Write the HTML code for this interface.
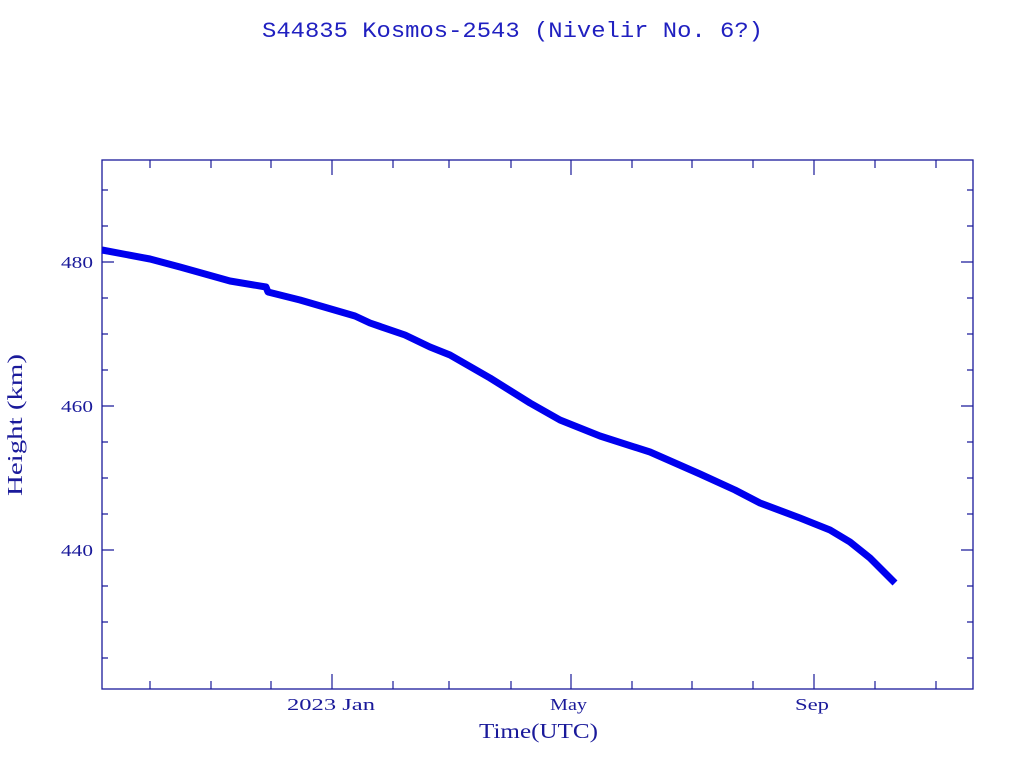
<!DOCTYPE html>
<html><head><style>
body{margin:0;background:#fff;}
svg{display:block;font-family:"Liberation Serif",serif;}
</style></head><body>
<svg width="1024" height="768" xmlns="http://www.w3.org/2000/svg">
<text x="262" y="37" font-size="22" fill="#2020c0" font-family="Liberation Mono, monospace" textLength="501" lengthAdjust="spacingAndGlyphs">S44835 Kosmos-2543  (Nivelir No. 6?)</text>
<rect x="102" y="160" width="871" height="529" fill="none" stroke="#1a1a9a" stroke-width="1.3"/>
<g stroke="#1a1a9a" stroke-width="1.2">
<path d="M150,689v-8M211,689v-8M271,689v-8M332,689v-15M393,689v-8M449,689v-8M511,689v-8M571,689v-15M632,689v-8M692,689v-8M753,689v-8M814,689v-15M875,689v-8M936,689v-8"/>
<path d="M150,160v8M211,160v8M271,160v8M332,160v15M393,160v8M449,160v8M511,160v8M571,160v15M632,160v8M692,160v8M753,160v8M814,160v15M875,160v8M936,160v8"/>
<path d="M102,262h12M102,406h12M102,550h12M102,190h6M102,226h6M102,298h6M102,334h6M102,370h6M102,442h6M102,478h6M102,514h6M102,586h6M102,622h6M102,658h6"/>
<path d="M973,262h-12M973,406h-12M973,550h-12M973,190h-6M973,226h-6M973,298h-6M973,334h-6M973,370h-6M973,442h-6M973,478h-6M973,514h-6M973,586h-6M973,622h-6M973,658h-6"/>
</g>
<g font-size="17" fill="#1a1a9a">
<text x="61" y="268" textLength="32" lengthAdjust="spacingAndGlyphs">480</text>
<text x="61" y="412" textLength="32" lengthAdjust="spacingAndGlyphs">460</text>
<text x="61" y="556" textLength="32" lengthAdjust="spacingAndGlyphs">440</text>
<text x="287" y="710" textLength="88" lengthAdjust="spacingAndGlyphs">2023 Jan</text>
<text x="550" y="710" textLength="37" lengthAdjust="spacingAndGlyphs">May</text>
<text x="795" y="710" textLength="34" lengthAdjust="spacingAndGlyphs">Sep</text>
</g>
<text x="479" y="738" font-size="21" fill="#1a1a9a" textLength="119" lengthAdjust="spacingAndGlyphs">Time(UTC)</text>
<text transform="translate(22,496) rotate(-90)" font-size="21" fill="#1a1a9a" textLength="142" lengthAdjust="spacingAndGlyphs">Height (km)</text>
<polyline fill="none" stroke="#0000ee" stroke-width="7" stroke-linejoin="round" points="102,250 150,259 180,267 230,281 266,287 268,292 300,300 355,316 370,323 405,335 430,347 450,355 490,378 530,403 560,420 600,436 650,452 700,474 735,490 760,503 800,518 830,530 850,542 870,558 895,583"/>
</svg>
</body></html>
